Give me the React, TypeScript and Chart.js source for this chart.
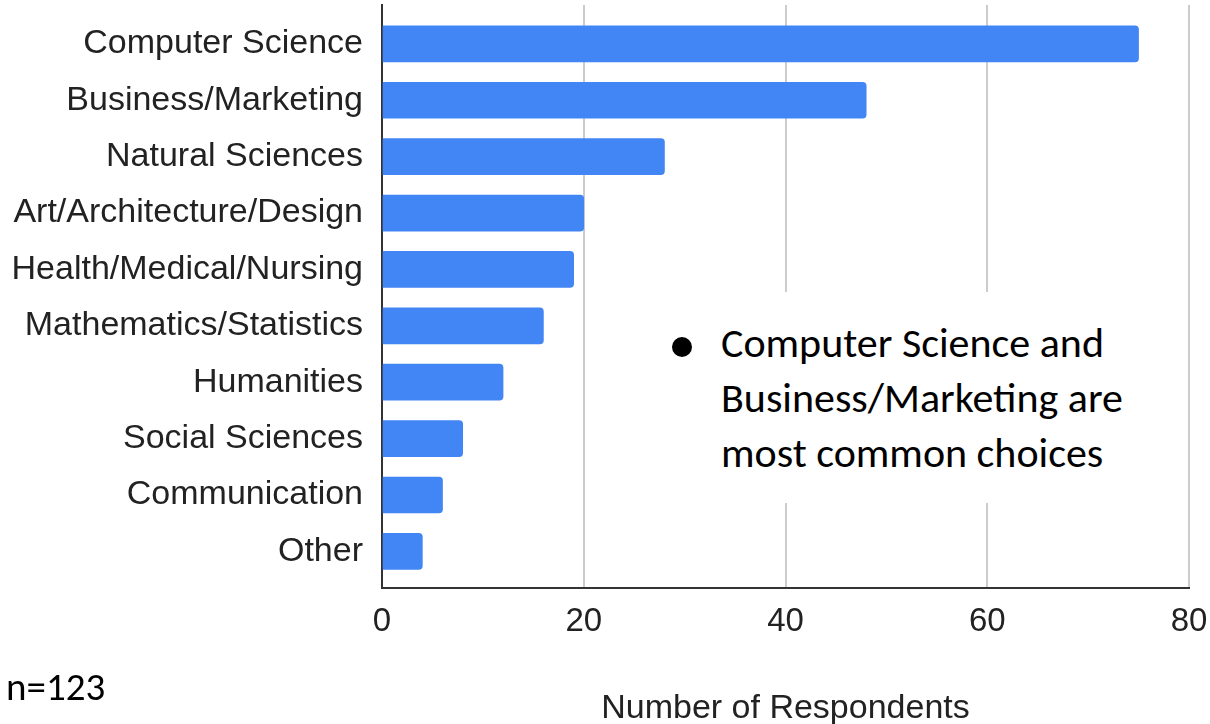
import React, { useEffect, useRef } from 'react';
import { Chart, registerables } from 'chart.js';

Chart.register(...registerables);

const categories = [
  'Computer Science',
  'Business/Marketing',
  'Natural Sciences',
  'Art/Architecture/Design',
  'Health/Medical/Nursing',
  'Mathematics/Statistics',
  'Humanities',
  'Social Sciences',
  'Communication',
  'Other',
];
const respondents = [75, 48, 28, 20, 19, 16, 12, 8, 6, 4];
const xTicks = [0, 20, 40, 60, 80];
const axisTitle = 'Number of Respondents';
const noteLines = ['Computer Science and', 'Business/Marketing are', 'most common choices'];
const sampleNote = 'n=123';

const SANS = '"Liberation Sans", Arial, sans-serif';
const NOTE_FONT = 'Carlito, Lato, "Open Sans", sans-serif';

export default function App() {
  const canvasRef = useRef<HTMLCanvasElement | null>(null);

  useEffect(() => {
    const canvas = canvasRef.current;
    if (!canvas) return;
    const chart = new Chart(canvas, {
      type: 'bar',
      data: {
        datasets: [
          {
            data: respondents.map((v, i) => ({ x: v, y: i })),
            backgroundColor: '#4285F4',
            barThickness: 36,
            borderRadius: 4,
            borderSkipped: 'start',
          },
        ],
      },
      options: {
        indexAxis: 'y',
        responsive: false,
        animation: false,
        layout: { padding: { top: 5, right: 21, left: 0, bottom: 0 } },
        plugins: { legend: { display: false }, tooltip: { enabled: false } },
        scales: {
          x: {
            type: 'linear',
            position: 'bottom',
            min: 0,
            max: 80,
            afterBuildTicks: (s: any) => {
              s.ticks = xTicks.map((v) => ({ value: v }));
            },
            grid: {
              color: (ctx: any) => (ctx.tick && ctx.tick.value === 0 ? 'rgba(0,0,0,0)' : '#cccccc'),
              lineWidth: 2,
              drawTicks: false,
            },
            border: { display: true, color: '#333333', width: 2 },
            ticks: {
              font: { family: SANS, size: 33 },
              color: '#222222',
              padding: 14,
              maxRotation: 0,
            },
            title: {
              display: true,
              text: axisTitle,
              font: { family: SANS, size: 34, lineHeight: 0.9 },
              color: '#222222',
              padding: { top: 0, bottom: 0 },
            },
            afterFit: (s: any) => {
              s.height = 136;
              s.paddingLeft = 0;
              s.paddingRight = 0;
            },
          },
          y: {
            type: 'linear',
            offset: false,
            reverse: true,
            min: -0.69,
            max: 9.65,
            afterBuildTicks: (s: any) => {
              s.ticks = categories.map((_, i) => ({ value: i }));
            },
            grid: { display: false, drawTicks: false, offset: false },
            border: { display: true, color: '#333333', width: 2 },
            ticks: {
              autoSkip: false,
              callback: (v: any) => categories[v as number] ?? '',
              font: { family: SANS, size: 34 },
              color: '#222222',
              padding: 19,
            },
            afterFit: (s: any) => {
              s.width = 382;
              s.paddingTop = 0;
              s.paddingBottom = 0;
            },
          },
        },
      },
    } as any);
    return () => chart.destroy();
  }, []);

  return (
    <div
      style={{
        position: 'absolute',
        left: 0,
        top: 0,
        width: 1210,
        height: 724,
        overflow: 'hidden',
        background: '#ffffff',
      }}
    >
      <canvas ref={canvasRef} width={1210} height={724} style={{ display: 'block' }} />
      <div
        style={{
          position: 'absolute',
          left: 650,
          top: 292,
          width: 490,
          height: 211,
          background: '#ffffff',
        }}
      />
      <div
        style={{
          position: 'absolute',
          left: 672,
          top: 337,
          width: 20,
          height: 20,
          borderRadius: '50%',
          background: '#000000',
        }}
      />
      <div
        style={{
          position: 'absolute',
          left: 721,
          top: 315,
          fontFamily: NOTE_FONT,
          fontSize: 42,
          lineHeight: '55px',
          color: '#000000',
          whiteSpace: 'nowrap',
        }}
      >
        {noteLines.map((l) => (
          <div key={l}>{l}</div>
        ))}
      </div>
      <div
        style={{
          position: 'absolute',
          left: 6,
          top: 667,
          fontFamily: NOTE_FONT,
          fontSize: 39,
          lineHeight: '39px',
          color: '#000000',
          whiteSpace: 'nowrap',
        }}
      >
        {sampleNote}
      </div>
    </div>
  );
}
